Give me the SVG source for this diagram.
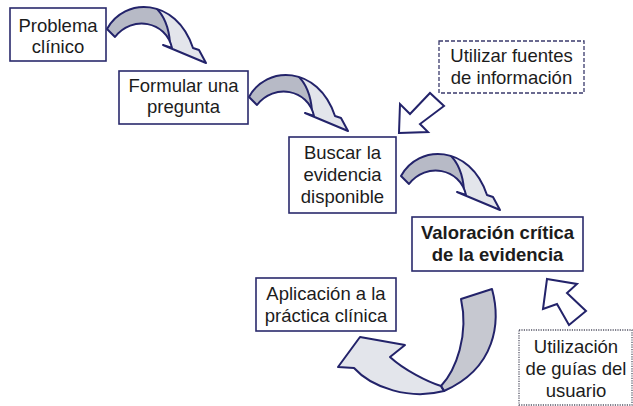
<svg xmlns="http://www.w3.org/2000/svg" xmlns:xlink="http://www.w3.org/1999/xlink" width="633" height="406" viewBox="0 0 633 406">
<style>
.box{fill:#fff;stroke:#2a2a6c;stroke-width:1.6}
.dash{fill:#fff;stroke:#3a3a6c;stroke-width:1.3;stroke-dasharray:4 2}
.dot{fill:#fff;stroke:#555566;stroke-width:1.3;stroke-dasharray:1.2 1.2}
.t{font-family:"Liberation Sans",Arial,sans-serif;font-size:18.5px;fill:#1c1c1c;text-anchor:middle}
.b{font-weight:bold}
.ol{fill:none;stroke:#23236a;stroke-width:2;stroke-linejoin:round}
.light{fill:#e3e5eb}
.dark{fill:#b7bac6}
.hollow{fill:#fff;stroke:#23236a;stroke-width:2;stroke-linejoin:miter}
</style>
<defs>
<path id="curlShape" d="M1,26 C18,-6 70,-6 87,45 L93,47 L100,60 L57,42 L66,45 C60,18 26,12 9,34 Z"/>
<clipPath id="curlClip"><use xlink:href="#curlShape"/></clipPath>
<g id="curl">
<use xlink:href="#curlShape" class="light"/>
<path class="dark" clip-path="url(#curlClip)" d="M-10,-20 L44,-20 L44,0 Q62,12 64,40 L50,30 L-10,50 Z"/>
<path class="ol" clip-path="url(#curlClip)" d="M44,0 Q62,12 64,40"/>
<use xlink:href="#curlShape" class="ol"/>
</g>
</defs>
<rect width="633" height="406" fill="#fff"/>
<g id="connectors">
<use xlink:href="#curl" transform="translate(106,3)"/>
<use xlink:href="#curl" transform="translate(248,71)"/>
<use xlink:href="#curl" transform="translate(400,150)"/>
<g id="big-arrow">
<path class="light" d="M441,386 C428,382 404,370 390,357 L405,345 L360,337 L338,367 L354,368 C372,388 410,400 444,391 Z"/>
<path fill="#c6c8d0" d="M461,299 L492,289 C501,322 496,368 444,391 L441,386 C456,370 469,335 461,299 Z"/>
<path class="ol" d="M441,386 C428,382 404,370 390,357 L405,345 L360,337 L338,367 L354,368 C372,388 410,400 444,391 Z"/>
<path class="ol" d="M461,299 L492,289 C501,322 496,368 444,391 L441,386 C456,370 469,335 461,299 Z"/>
</g>
<polygon id="arrow-fuentes" class="hollow" points="399,133 428,132 420,124 444,106 430,93 410,114 400,104"/>
<polygon id="arrow-guias" class="hollow" points="547,279 577,284 567,293 586,311 569,325 557,304 543,309"/>
</g>
<g id="n-problema">
<rect class="box" x="10" y="8" width="96" height="53"/>
<text class="t" x="58" y="32">Problema</text>
<text class="t" x="58" y="53">clínico</text>
</g>
<g id="n-formular">
<rect class="box" x="119" y="71" width="129" height="53"/>
<text class="t" x="183.5" y="92">Formular una</text>
<text class="t" x="183.5" y="113">pregunta</text>
</g>
<g id="n-buscar">
<rect class="box" x="289" y="137" width="107" height="76"/>
<text class="t" x="342.5" y="159">Buscar la</text>
<text class="t" x="342.5" y="181">evidencia</text>
<text class="t" x="342.5" y="203">disponible</text>
</g>
<g id="n-valoracion">
<rect class="box" x="412" y="217" width="171" height="54"/>
<text class="t b" x="497.5" y="239">Valoración crítica</text>
<text class="t b" x="497.5" y="261">de la evidencia</text>
</g>
<g id="n-aplicacion">
<rect class="box" x="256" y="278" width="140" height="53"/>
<text class="t" x="326" y="300">Aplicación a la</text>
<text class="t" x="326" y="322">práctica clínica</text>
</g>
<g id="n-fuentes">
<rect class="dash" x="439" y="41" width="145" height="52"/>
<text class="t" x="511.5" y="62">Utilizar fuentes</text>
<text class="t" x="511.5" y="84">de información</text>
</g>
<g id="n-guias">
<rect class="dot" x="519" y="330" width="113" height="75"/>
<text class="t" x="576" y="353">Utilización</text>
<text class="t" x="576" y="375">de guías del</text>
<text class="t" x="576" y="397">usuario</text>
</g>
</svg>
